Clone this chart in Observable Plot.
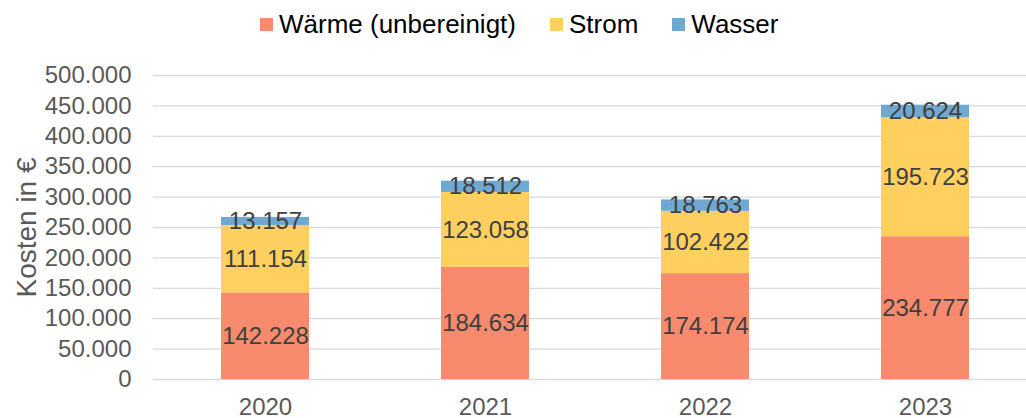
<!DOCTYPE html>
<html>
<head>
<meta charset="utf-8">
<script src="https://cdn.jsdelivr.net/npm/d3@7"></script>
<script src="https://cdn.jsdelivr.net/npm/@observablehq/plot@0.6"></script>
<style>
  html, body { margin: 0; padding: 0; background: #fff; }
  body { width: 1026px; height: 418px; position: relative; overflow: hidden; font-family: "Liberation Sans", Arial, sans-serif; }
  #legend { position: absolute; top: 8px; left: 260px; height: 32px; display: flex; gap: 34px; font-size: 26px; line-height: 32px; color: #000; z-index: 2; white-space: nowrap; }
  #legend .item { display: flex; align-items: center; }
  #legend .sw { width: 13px; height: 13px; margin-right: 6px; }
  #chart { position: absolute; top: 0; left: 0; }
</style>
</head>
<body>
<div id="legend"></div>
<div id="chart"></div>
<script>
const years = ["2020", "2021", "2022", "2023"];
const series = ["Wärme (unbereinigt)", "Strom", "Wasser"];
const waerme = [142228, 184634, 174174, 234777];
const strom = [111154, 123058, 102422, 195723];
const wasser = [13157, 18512, 18763, 20624];
const colors = ["#F88B6D", "#FFD05F", "#6FA8D0"];
const yTicks = [0, 50000, 100000, 150000, 200000, 250000, 300000, 350000, 400000, 450000, 500000];

const values = [waerme, strom, wasser];
const data = [];
series.forEach((s, si) => years.forEach((y, yi) => data.push({year: y, series: s, value: values[si][yi]})));

const de = d3.formatLocale({decimal: ",", thousands: ".", grouping: [3], currency: ["", " €"]});
const fmt = de.format(",.0f");

const legend = document.getElementById("legend");
series.forEach((s, i) => {
  const it = document.createElement("div");
  it.className = "item";
  it.innerHTML = `<span class="sw" style="background:${colors[i]}"></span><span>${s}</span>`;
  legend.appendChild(it);
});

const chart = Plot.plot({
  width: 1026,
  height: 418,
  marginTop: 75,
  marginBottom: 39,
  marginLeft: 153,
  marginRight: 0,
  style: {fontFamily: "Liberation Sans, Arial, sans-serif", background: "transparent", overflow: "visible"},
  x: {domain: years, range: [153, 1036], paddingInner: 0.6, paddingOuter: 0.3, label: null},
  y: {domain: [0, 500000], label: null},
  color: {domain: series, range: colors},
  marks: [
    Plot.ruleY(yTicks, {stroke: "#d9d9d9", strokeWidth: 1.3}),
    Plot.barY(data, Plot.stackY({x: "year", y: "value", fill: "series", order: series})),
    Plot.text(data, Plot.stackY({x: "year", y: "value", z: "series", order: series, text: d => fmt(d.value), fill: "#404040", fontSize: 24})),
    Plot.axisY(yTicks, {tickSize: 0, tickPadding: 22, tickFormat: fmt, fontSize: 24, fill: "#595959", label: null}),
    Plot.axisX({tickSize: 0, tickPadding: 18, fontSize: 24, fill: "#595959", label: null}),
    Plot.text(["Kosten in €"], {frameAnchor: "left", dx: -126, rotate: -90, textAnchor: "middle", fontSize: 28, fill: "#595959"})
  ]
});
document.getElementById("chart").appendChild(chart);
</script>
</body>
</html>
